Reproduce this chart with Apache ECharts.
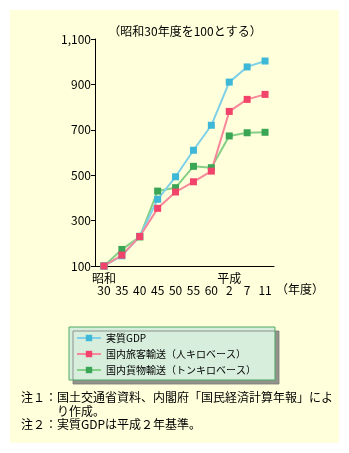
<!DOCTYPE html>
<html><head><meta charset="utf-8">
<script src="https://cdn.jsdelivr.net/npm/echarts@6/dist/echarts.min.js"></script>
<style>
html,body{margin:0;padding:0;background:#fff;}
#bg{position:absolute;left:10px;top:10px;width:329px;height:433px;background:#ffffdb;}
#c{position:absolute;left:0;top:0;width:349px;height:453px;}
</style></head>
<body><div id="bg"></div><div id="c"></div>
<script>
const categories = ['30','35','40','45','50','55','60','2','7','11'];
const eraLabels = ['昭和','','','','','','','平成','',''];
const gdp = [100,145,231,394,493,610,720,910,977,1003];
const passenger = [100,148,230,354,426,471,518,781,834,856];
const freight = [100,173,228,430,445,539,533,673,687,689];
const yTicks = [100,300,500,700,900,1100];

const font = '"Noto Sans CJK JP", sans-serif';
const chart = echarts.init(document.getElementById('c'), null, {renderer:'canvas'});
function mk(name, data, lineColor, markColor){
  return {name, type:'line', data, symbol:'rect', symbolSize:7,
    lineStyle:{color:lineColor, width:2}, itemStyle:{color:markColor},
    emphasis:{disabled:true}, animation:false};
}
chart.setOption({
  backgroundColor:'transparent',
  animation:false,
  textStyle:{fontFamily:font},
  grid:{left:95, right:75, top:39, bottom:187, containLabel:false},
  title:{text:'（昭和30年度を100とする）', left:180, textAlign:'center', top:20,
    textStyle:{fontSize:12, fontWeight:'normal', color:'#000', fontFamily:font}},
  xAxis:{type:'category', data:categories, boundaryGap:true,
    axisLine:{lineStyle:{color:'#000', width:1}},
    axisTick:{inside:true, length:4, lineStyle:{color:'#000'}, alignWithLabel:false},
    axisLabel:{interval:0, margin:6, color:'#000', fontSize:12, lineHeight:12, fontFamily:font,
      formatter:(v,i)=> eraLabels[i] + '\n' + v}},
  yAxis:{type:'value', min:yTicks[0], max:yTicks[yTicks.length-1], interval:200,
    axisLine:{show:true, lineStyle:{color:'#000', width:1}},
    axisTick:{show:true, length:4, lineStyle:{color:'#000'}},
    splitLine:{show:false},
    axisLabel:{color:'#000', fontSize:12, margin:4, fontFamily:font,
      formatter:v=> v.toLocaleString('en-US')}},
  legend:{orient:'vertical', left:69, top:327, itemWidth:24, itemHeight:8, itemGap:4,
    padding:[5,19,4,7], backgroundColor:'#d7eedc', borderColor:'#4fa866', borderWidth:1,
    shadowColor:'rgba(120,120,120,0.8)', shadowOffsetX:4, shadowOffsetY:4, shadowBlur:0,
    textStyle:{fontSize:10, lineHeight:12, color:'#000', fontFamily:font},
    data:['実質GDP','国内旅客輸送（人キロベース）','国内貨物輸送（トンキロベース）']},
  graphic:[
    {type:'text', left:276, top:283, style:{text:'（年度）', fill:'#000', font:'12px '+font}},
    {type:'text', left:21, top:391, style:{text:'注１：国土交通省資料、内閣府「国民経済計算年報」によ', fill:'#000', font:'12px '+font}},
    {type:'text', left:57, top:405, style:{text:'り作成。', fill:'#000', font:'12px '+font}},
    {type:'text', left:21, top:418, style:{text:'注２：実質GDPは平成２年基準。', fill:'#000', font:'12px '+font}}
  ],
  series:[
    mk('国内貨物輸送（トンキロベース）', freight, '#86cf86', '#3aa655'),
    mk('実質GDP', gdp, '#7fd0e8', '#3fb8d8'),
    mk('国内旅客輸送（人キロベース）', passenger, '#f7879a', '#f2446a')
  ]
});
</script></body></html>
